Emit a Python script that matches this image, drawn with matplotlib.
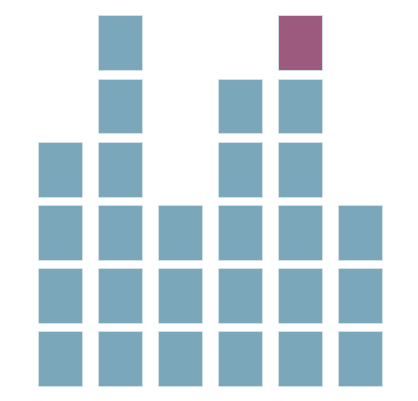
import matplotlib
matplotlib.use("Agg")
import matplotlib.pyplot as plt

# number of stacked squares in each column
counts = [4, 6, 3, 5, 6, 3]
# (column, level) of the highlighted square
highlight = (4, 5)

base_color = "#7ba7ba"
highlight_color = "#9b5a7e"

fig = plt.figure(figsize=(4.18, 4.02), dpi=100)
ax = fig.add_axes([30 / 418, 10.6 / 402, 360 / 418, 379.2 / 402])

for col, n in enumerate(counts):
    for level in range(n):
        color = highlight_color if (col, level) == highlight else base_color
        ax.bar(col, 0.87, width=0.723, bottom=level + 0.065,
               color=color, edgecolor="#d6e4ea", linewidth=0.6)

ax.set_xlim(-0.5, len(counts) - 0.5)
ax.set_ylim(0, 6)
ax.axis("off")

fig.savefig("out.png", dpi=100)
